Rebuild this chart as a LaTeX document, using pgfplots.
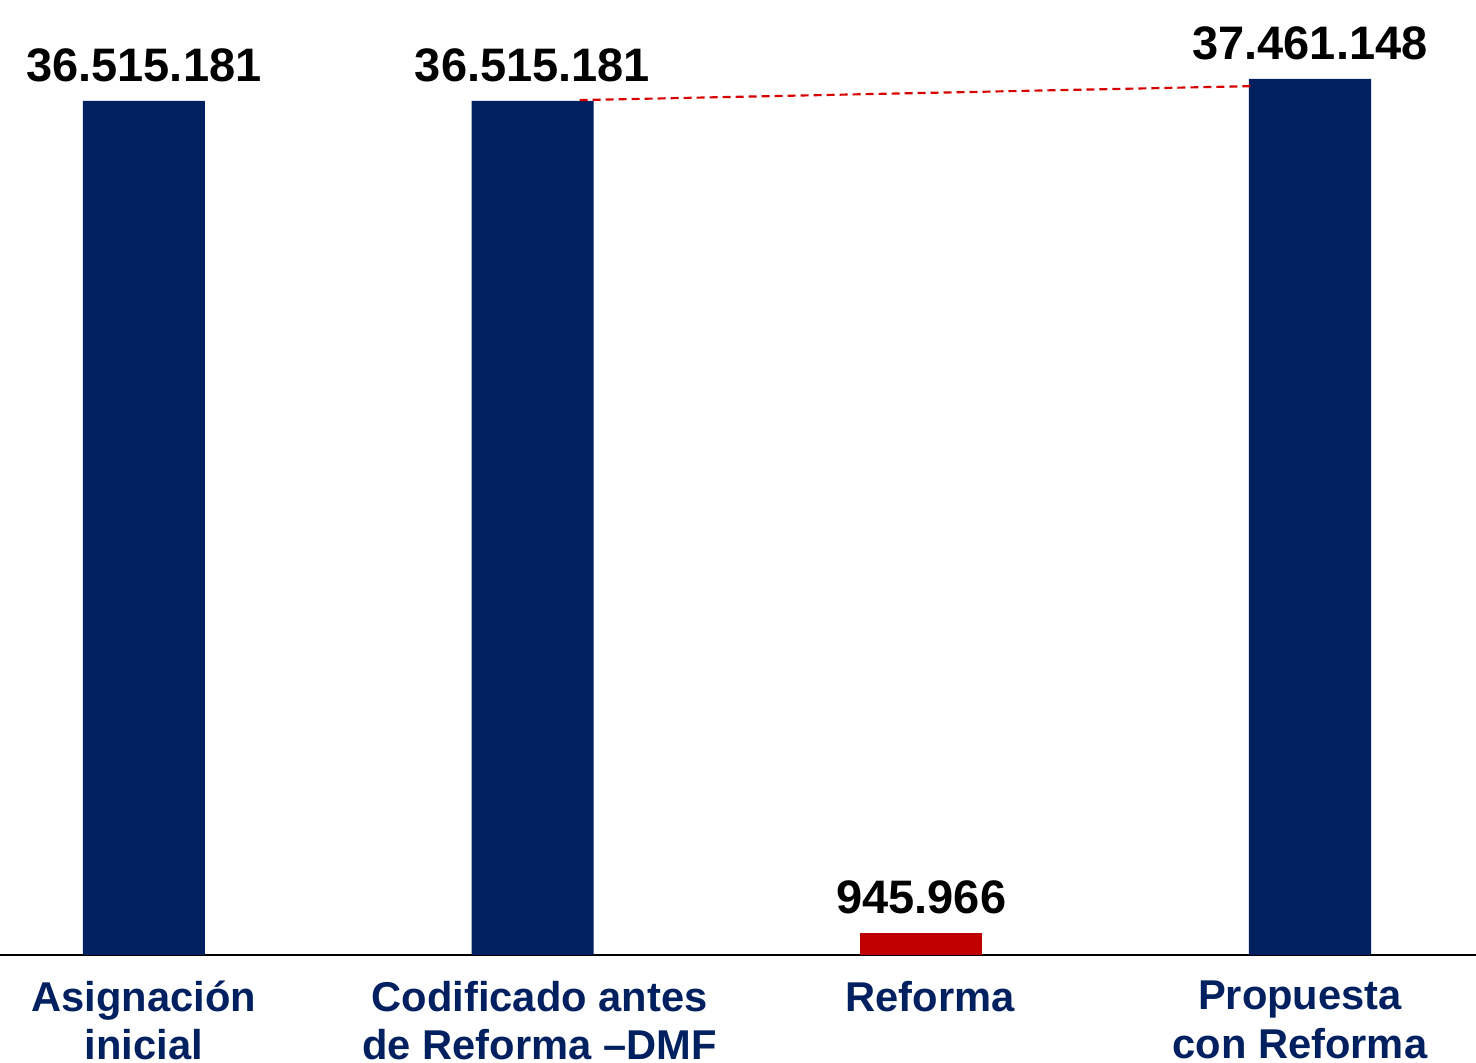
\documentclass[border=0pt]{standalone}
\usepackage{pgfplots}
\pgfplotsset{compat=1.18}
\usepackage{fontspec}
\setmainfont{Liberation Sans}
\definecolor{navy}{RGB}{0,32,96}
\definecolor{darkred}{RGB}{192,0,0}
\definecolor{dashred}{RGB}{215,0,0}
\begin{document}
\begin{tikzpicture}
\begin{axis}[
  scale only axis,
  width=442.8pt, height=286.5pt,
  xmin=-0.370, xmax=3.427,
  ymin=0, ymax=40.83e6,
  axis x line=bottom,
  axis line style={-, black, line width=0.8pt},
  hide y axis,
  xtick={0,1.018,2.023,2.974},
  xticklabels={{Asignación\\inicial},{Codificado antes\\de Reforma --DMF},{Reforma},{Propuesta\\con Reforma}},
  xticklabel style={align=center, font=\fontsize{12.5}{14.5}\selectfont\bfseries, text=navy, yshift=-4.3pt},
  major tick length=0pt,
  clip=false,
  bar width=0.314,
]
\addplot[ybar, bar shift=0pt, fill=navy, draw=none,
  nodes near coords, point meta=explicit symbolic,
  nodes near coords style={font=\fontsize{14.1}{16}\selectfont\bfseries, text=black, yshift=2pt}]
  coordinates {(0,36515181) [36.515.181] (1,36515181) [36.515.181] (3,37461148) [37.461.148]};
\addplot[ybar, bar shift=0pt, fill=darkred, draw=none,
  nodes near coords, point meta=explicit symbolic,
  nodes near coords style={font=\fontsize{14.1}{16}\selectfont\bfseries, text=black, yshift=2pt}]
  coordinates {(2,945966) [945.966]};
\addplot[sharp plot, no marks, dashred, line width=0.65pt, dash pattern=on 2.4pt off 1.5pt]
  coordinates {(1.121,36550000) (2.859,37150000)};
\coordinate (ll) at (rel axis cs:0,0);
\coordinate (ur) at (rel axis cs:1,1);
\end{axis}
\pgfresetboundingbox
\path (ll) ++(0,-32.4pt) rectangle (ur);
\end{tikzpicture}
\end{document}
